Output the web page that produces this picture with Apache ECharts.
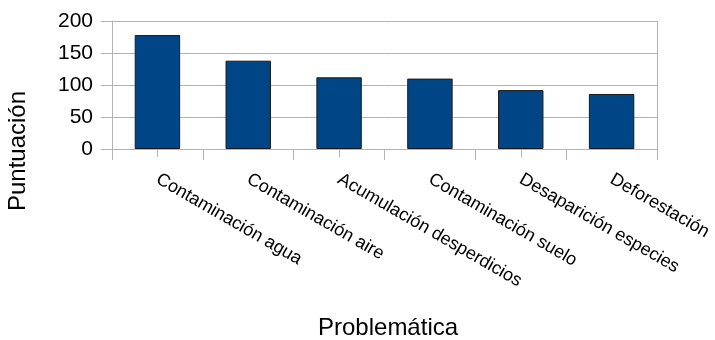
<!DOCTYPE html>
<html>
<head>
<meta charset="utf-8">
<script src="https://cdn.jsdelivr.net/npm/echarts@6/dist/echarts.min.js"></script>
<style>
html,body{margin:0;padding:0;background:#fff;}
#chart{width:715px;height:340px;}
</style>
</head>
<body>
<div id="chart"></div>
<script>
const categories = ['Contaminación agua','Contaminación aire','Acumulación desperdicios','Contaminación suelo','Desaparición especies','Deforestación'];
const values = [178, 138, 112, 110, 92, 86];
const yTicks = [0, 50, 100, 150, 200];
const xTitle = 'Problemática';
const yTitle = 'Puntuación';

const FONT = '"Liberation Sans", Arial, sans-serif';
const GRAY = '#b3b3b3';
const chart = echarts.init(document.getElementById('chart'));
chart.setOption({
  animation: false,
  backgroundColor: '#fff',
  textStyle: { fontFamily: FONT },
  grid: { left: 112, right: 58, top: 21, bottom: 191, containLabel: false },
  xAxis: [{
    type: 'category',
    data: categories,
    position: 'bottom',
    boundaryGap: true,
    axisLine: { show: true, lineStyle: { color: GRAY, width: 1 } },
    axisTick: { show: true, length: 11, lineStyle: { color: GRAY } },
    axisLabel: { show: true, rotate: -30, interval: 0, margin: 29, color: '#000', fontSize: 18, fontFamily: FONT },
    splitLine: { show: false }
  }, {
    type: 'category',
    data: categories,
    position: 'bottom',
    boundaryGap: true,
    axisLine: { show: false },
    axisTick: { show: true, alignWithLabel: true, length: 8, lineStyle: { color: GRAY } },
    axisLabel: { show: false },
    splitLine: { show: false }
  }],
  yAxis: [{
    type: 'value',
    min: yTicks[0],
    max: yTicks[yTicks.length - 1],
    interval: yTicks[1] - yTicks[0],
    axisLine: { show: true, lineStyle: { color: GRAY } },
    axisTick: { show: true, length: 11, lineStyle: { color: GRAY } },
    axisLabel: { color: '#000', fontSize: 21, fontFamily: FONT, margin: 19 },
    splitLine: { show: true, lineStyle: { color: GRAY, width: 1 } }
  }, {
    type: 'value',
    position: 'right',
    min: yTicks[0],
    max: yTicks[yTicks.length - 1],
    interval: yTicks[1] - yTicks[0],
    axisLine: { show: true, lineStyle: { color: GRAY } },
    axisTick: { show: false },
    axisLabel: { show: false },
    splitLine: { show: false }
  }],
  series: [{
    type: 'bar',
    data: values,
    barWidth: '50%',
    itemStyle: { color: '#004586', borderColor: '#1a1a1a', borderWidth: 1 }
  }],
  graphic: [{
    type: 'text',
    x: 318,
    y: 328.5,
    style: { text: xTitle, fontSize: 24, fill: '#000', fontFamily: FONT, textAlign: 'left', textVerticalAlign: 'middle' }
  }, {
    type: 'text',
    x: 18.6,
    y: 151,
    rotation: Math.PI / 2,
    style: { text: yTitle, fontSize: 24, fill: '#000', fontFamily: FONT, textAlign: 'center', textVerticalAlign: 'middle' }
  }]
});
</script>
</body>
</html>
